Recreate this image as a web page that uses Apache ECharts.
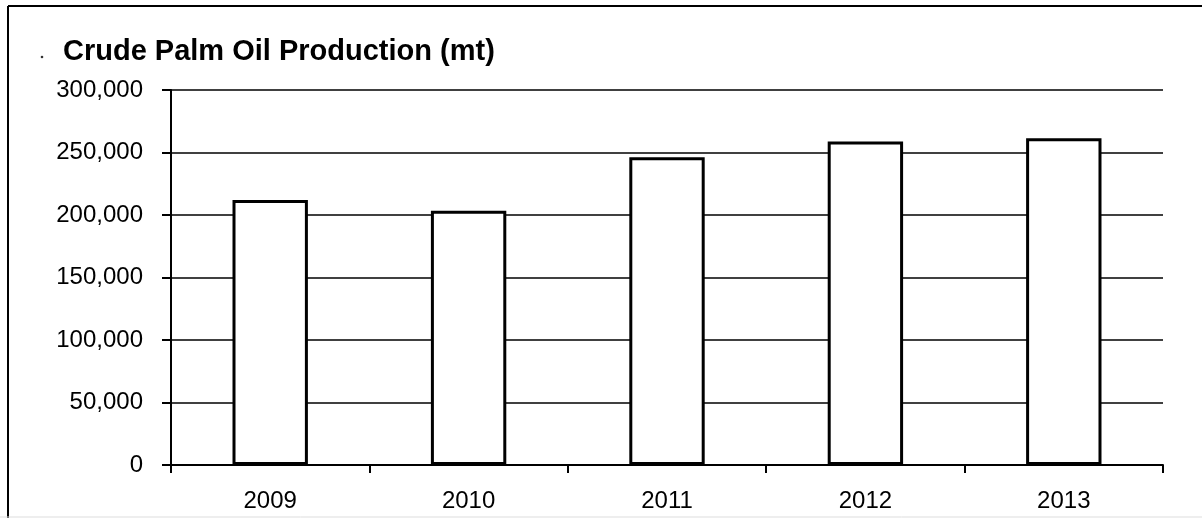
<!DOCTYPE html>
<html>
<head>
<meta charset="utf-8">
<script src="https://cdn.jsdelivr.net/npm/echarts@6/dist/echarts.min.js"></script>
<style>
html,body{margin:0;padding:0;background:#fff;}
#chart{width:1202px;height:518px;}
</style>
</head>
<body>
<div id="chart"></div>
<script>
const titleText = 'Crude Palm Oil Production (mt)';
const categories = ['2009', '2010', '2011', '2012', '2013'];
const production = [212000, 203500, 246300, 258800, 261400];
const yTicks = [0, 50000, 100000, 150000, 200000, 250000, 300000];

const chart = echarts.init(document.getElementById('chart'), null, {renderer: 'canvas'});
const font = '"Liberation Sans", Arial, sans-serif';
chart.setOption({
  animation: false,
  backgroundColor: '#ffffff',
  title: {
    text: titleText,
    left: 58,
    top: 32,
    textStyle: {fontFamily: font, fontWeight: 'bold', fontSize: 29, color: '#000'}
  },
  grid: {left: 171, right: 39, top: 90, bottom: 53, containLabel: false},
  xAxis: {
    type: 'category',
    data: categories,
    boundaryGap: true,
    axisLine: {lineStyle: {color: '#000', width: 2}},
    axisTick: {show: true, length: 8, inside: false, alignWithLabel: false, lineStyle: {color: '#000', width: 2}},
    axisLabel: {margin: 24, fontFamily: font, fontSize: 24, color: '#000'},
    splitLine: {show: false}
  },
  yAxis: {
    type: 'value',
    min: yTicks[0],
    max: yTicks[yTicks.length - 1],
    interval: yTicks[1] - yTicks[0],
    axisLine: {show: true, lineStyle: {color: '#000', width: 2}},
    axisTick: {show: true, length: 9, lineStyle: {color: '#000', width: 2}},
    axisLabel: {
      margin: 28, fontFamily: font, fontSize: 24, color: '#000',
      formatter: v => v.toLocaleString('en-US')
    },
    splitLine: {show: true, lineStyle: {color: '#000', width: 1.5}}
  },
  series: [{
    type: 'bar',
    data: production,
    barWidth: '38%',
    itemStyle: {color: '#ffffff', borderColor: '#000', borderWidth: 3}
  }],
  graphic: [
    {type: 'line', shape: {x1: 8, y1: 6, x2: 1202, y2: 6}, style: {stroke: '#000', lineWidth: 2}},
    {type: 'line', shape: {x1: 8, y1: 6, x2: 8, y2: 518}, style: {stroke: '#000', lineWidth: 2}},
    {type: 'line', shape: {x1: 0, y1: 517, x2: 1202, y2: 517}, style: {stroke: '#ddd', lineWidth: 1}},
    {type: 'circle', shape: {cx: 42, cy: 57, r: 1.3}, style: {fill: '#333'}}
  ]
});
</script>
</body>
</html>
